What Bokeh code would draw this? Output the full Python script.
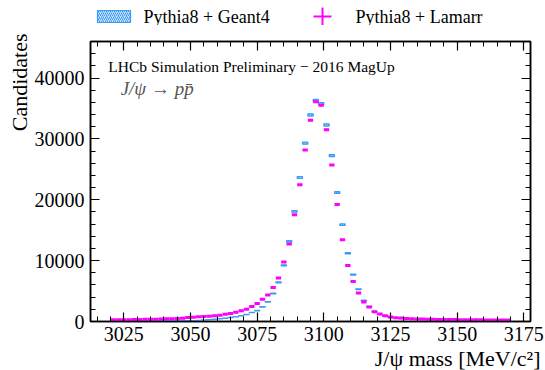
import numpy as np
from bokeh.plotting import figure
from bokeh.layouts import column
from bokeh.core.properties import value
from bokeh.models import (Range1d, LinearAxis, SingleIntervalTicker, Title, Label,
                          ColumnDataSource, CustomJSTickFormatter)
from bokeh.embed import file_html
from bokeh.resources import INLINE

# ---- data -------------------------------------------------------------
mass_centers = list(range(3021, 3170, 2))  # MeV/c^2, 2 MeV bins
bin_half = 1.0

geant4 = [60, 65, 70, 75, 80, 85, 90, 95, 100, 105, 110, 115, 120, 130, 140,
          150, 190, 240, 300, 380, 460, 550, 650, 780, 930, 1150, 1480, 1800, 2400, 3220,
          4600, 6440, 9230, 13160, 18080, 23650, 29290, 33930, 36300, 35780,
          32290, 27260, 21190, 15900, 11200, 7700, 5300, 3440, 2450, 1620,
          1200, 900, 700, 580, 500, 440, 400, 370, 340, 320,
          300, 290, 280, 270, 260, 250, 240, 235, 230, 225, 220, 215, 210, 205, 200]

lamarr = [270, 280, 290, 300, 320, 330, 350, 370, 390, 410, 440, 470, 500, 546, 650,
          710, 765, 820, 874, 930, 1040, 1200, 1310, 1530, 1750, 2020, 2460, 2950, 3660, 4370,
          5570, 7160, 9780, 12730, 17540, 22450, 28190, 33060, 36110, 35510,
          31520, 25730, 19230, 13440, 9180, 6560, 4700, 3200, 2380, 1600,
          1250, 950, 750, 620, 560, 500, 460, 430, 400, 380,
          360, 340, 330, 320, 310, 300, 290, 280, 275, 270, 265, 260, 255, 250, 245]

x_ticks_interval = 25
y_ticks_interval = 10000

label_geant = "Pythia8 + Geant4"
label_lamarr = "Pythia8 + Lamarr"
xlabel = "J/ψ mass [MeV/c²]"
ylabel = "Candidates"
text_lhcb = "LHCb Simulation Preliminary − 2016 MagUp"
text_decay = "J/ψ → pp̄"

# ---- styling ----------------------------------------------------------
BLUE = "#3d9bf0"
MAG = "#ff00ff"
FONT = "Liberation Serif"
quad_style = dict(fill_color="#c4e1ff", fill_alpha=1.0, line_color=BLUE, line_width=1.2,
                  hatch_pattern="/", hatch_color=BLUE, hatch_scale=4, hatch_weight=1)

c = np.array(mass_centers, dtype=float)
g = np.array(geant4, dtype=float)
l = np.array(lamarr, dtype=float)
gerr = np.sqrt(g)
lerr = np.sqrt(l)

BL, BR = 90, 15
FW, FH = 440, 280
LH = 25          # legend strip height
BT = 16          # top border of main plot (frame top at LH + BT)

# ---- main plot --------------------------------------------------------
p = figure(frame_width=FW, frame_height=FH,
           x_range=Range1d(3012.5, 3177.5), y_range=Range1d(0, 46000),
           output_backend="svg", toolbar_location=None,
           min_border_left=BL, min_border_right=BR, min_border_top=BT, min_border_bottom=0)
p.background_fill_color = "white"
p.border_fill_color = "white"
p.outline_line_color = "black"
p.outline_line_width = 1.5
p.grid.visible = False

src_g = ColumnDataSource(dict(left=c - bin_half, right=c + bin_half, bottom=g - gerr, top=g + gerr))
p.quad(left="left", right="right", bottom="bottom", top="top", source=src_g, **quad_style)

src_l = ColumnDataSource(dict(x0=c - bin_half, x1=c + bin_half, y=l, ylo=l - lerr, yhi=l + lerr, x=c))
p.segment(x0="x0", y0="y", x1="x1", y1="y", source=src_l, line_color=MAG, line_width=3)
p.segment(x0="x", y0="ylo", x1="x", y1="yhi", source=src_l, line_color=MAG, line_width=1.5)

xt = SingleIntervalTicker(interval=x_ticks_interval, num_minor_ticks=5)
yt = SingleIntervalTicker(interval=y_ticks_interval, num_minor_ticks=5)

def style_axis(ax, labels=True):
    ax.axis_line_width = 1.5
    ax.axis_line_color = "black"
    ax.major_tick_in = 9
    ax.major_tick_out = 0
    ax.minor_tick_in = 5
    ax.minor_tick_out = 0
    ax.major_tick_line_width = 1.2
    ax.minor_tick_line_width = 1.0
    ax.major_tick_line_color = "black"
    ax.minor_tick_line_color = "black"
    if labels:
        ax.major_label_text_font = FONT
        ax.major_label_text_font_size = "20px"
        ax.major_label_text_color = "black"
    else:
        ax.formatter = CustomJSTickFormatter(code="return ''")
        ax.major_label_standoff = 0

p.xaxis.ticker = xt
p.yaxis.ticker = yt
style_axis(p.xaxis[0])
style_axis(p.yaxis[0])
p.xaxis.major_label_standoff = 5
p.yaxis.major_label_standoff = 6

top_ax = LinearAxis(ticker=xt)
style_axis(top_ax, labels=False)
right_ax = LinearAxis(ticker=yt)
style_axis(right_ax, labels=False)
p.add_layout(top_ax, "above")
p.add_layout(right_ax, "right")

p.add_layout(Title(text=xlabel, align="right", text_font=FONT, text_font_size="22px",
                   text_font_style="normal", text_color="black", standoff=0, offset=-10), "below")
p.add_layout(Title(text=ylabel, align="right", text_font=FONT, text_font_size="22px",
                   text_font_style="normal", text_color="black", standoff=0, offset=-8), "left")

p.add_layout(Label(x=3019.2, y=41900, text=text_lhcb, text_font=FONT, text_font_size="15.5px",
                   text_baseline="middle", text_align="left", text_color="black"))
p.add_layout(Label(x=3023.8, y=38200, text=text_decay, text_font=FONT, text_font_size="19px",
                   text_font_style="italic", text_baseline="middle", text_align="left",
                   text_color="#555555"))

# ---- legend strip above the plot (pixel-unit ranges) ------------------
q = figure(width=BL + FW + BR, height=LH, x_range=Range1d(0, FW), y_range=Range1d(0, LH),
           output_backend="svg", toolbar_location=None,
           x_axis_location=None, y_axis_location=None,
           min_border_left=BL, min_border_right=BR, min_border_top=0, min_border_bottom=0)
q.outline_line_color = None
q.grid.visible = False
q.background_fill_color = "white"
q.border_fill_color = "white"
# legend key 1: hatched box
q.quad(left=[7], right=[40], bottom=[3], top=[15], **quad_style)
q.text(x=[53], y=[9], text=[label_geant], text_font=value(FONT), text_font_size="18px",
       text_baseline="middle", text_color="black")
# legend key 2: error-bar cross
q.scatter(x=[232], y=[9], marker="cross", size=18, line_color=MAG, line_width=2)
q.text(x=[265], y=[9], text=[label_lamarr], text_font=value(FONT), text_font_size="18px",
       text_baseline="middle", text_color="black")

open("out.html", "w").write(file_html(column(q, p, spacing=0), INLINE))
